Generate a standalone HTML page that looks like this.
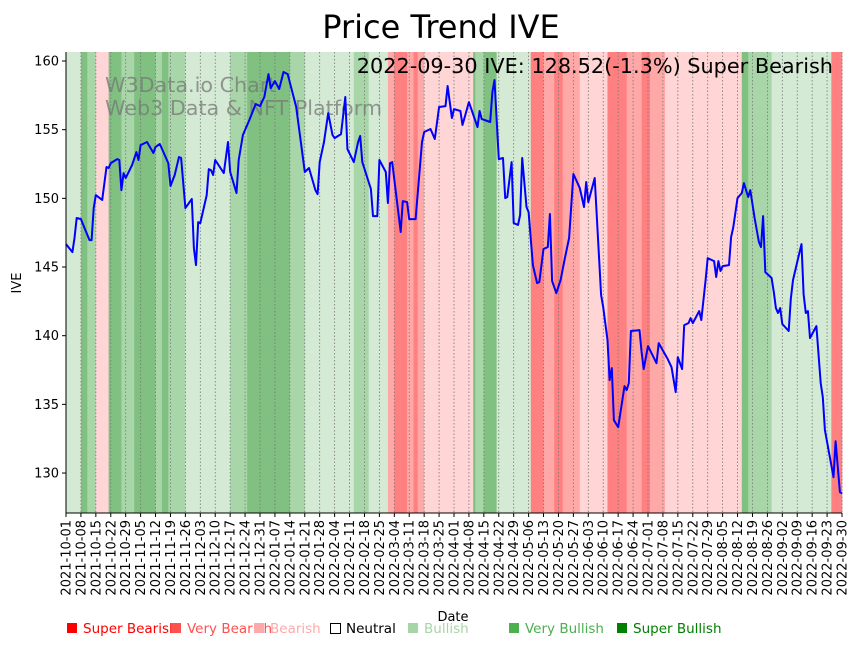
<!DOCTYPE html>
<html><head><meta charset="utf-8">
<style>
body{margin:0;background:#fff;font-family:"Liberation Sans","DejaVu Sans",sans-serif;}
svg text{font-family:"DejaVu Sans","Liberation Sans",sans-serif;}
</style></head>
<body>
<svg id="chart" width="857" height="646" viewBox="0 0 857 646" xmlns="http://www.w3.org/2000/svg">
<text x="441" y="38" font-size="32" text-anchor="middle">Price Trend IVE</text>
<g id="bands"></g>
<g id="grid"></g>
<text x="105" y="92" font-size="20.7" fill="#777" fill-opacity="0.75">W3Data.io Chart</text>
<text x="105" y="115" font-size="20.7" fill="#777" fill-opacity="0.75">Web3 Data &amp; NFT Platform</text>
<path id="line" fill="none" stroke="#0000ff" stroke-width="2" stroke-linejoin="round"></path>
<text x="833" y="73" font-size="20.8" text-anchor="end">2022-09-30 IVE: 128.52(-1.3%) Super Bearish</text>
<line x1="66" y1="52" x2="66" y2="513" stroke="#000" stroke-width="1"/>
<line x1="66" y1="513" x2="842" y2="513" stroke="#000" stroke-width="1"/>
<g id="yticks"></g>
<g id="xticks"></g>
<text x="0" y="0" font-size="13" text-anchor="middle" transform="translate(21,283) rotate(-90)">IVE</text>
<text x="453" y="621" font-size="13" text-anchor="middle">Date</text>
<g font-size="13.5">
<g><rect x="67" y="623" width="10" height="10" fill="#ff0000"/><text x="83" y="633" fill="#ff0000">Super Bearish</text></g>
<g><rect x="171" y="623" width="10" height="10" fill="#ff5050"/><text x="187" y="633" fill="#ff5050">Very Bearish</text></g>
<g><rect x="254" y="623" width="10" height="10" fill="#ffaaaa"/><text x="270" y="633" fill="#ffaaaa">Bearish</text></g>
<g><rect x="330.5" y="623.5" width="10" height="10" fill="none" stroke="#000"/><text x="346" y="633" fill="#000">Neutral</text></g>
<g><rect x="408" y="623" width="10" height="10" fill="#a8d5a8"/><text x="424" y="633" fill="#a8d5a8">Bullish</text></g>
<g><rect x="509" y="623" width="10" height="10" fill="#4caf50"/><text x="525" y="633" fill="#4caf50">Very Bullish</text></g>
<g><rect x="617" y="623" width="10" height="10" fill="#008000"/><text x="633" y="633" fill="#008000">Super Bullish</text></g>
</g>
</svg>
<script>
// days since 2021-10-01 and closing prices
const days = [0,3,4,5,7,11,12,13,14,17,19,20,21,24,25,26,27,28,31,33,34,35,38,41,42,44,48,49,51,53,54,56,59,60,61,62,63,66,67,68,69,70,74,76,77,80,81,83,86,89,91,93,95,96,98,100,102,104,108,112,114,117,118,119,121,123,125,126,129,131,132,135,137,138,139,143,144,146,147,150,151,152,153,157,158,160,161,164,167,168,171,173,175,178,179,181,182,185,186,189,193,194,195,199,200,201,203,205,206,207,209,210,212,213,214,216,217,219,221,222,224,226,227,228,230,232,234,236,238,241,243,244,245,248,251,252,254,255,256,257,259,262,263,264,265,269,270,271,273,277,278,282,284,286,287,289,290,292,293,294,297,298,300,301,304,305,306,307,308,311,312,313,315,317,318,320,321,323,325,326,327,328,331,332,333,334,335,336,339,340,341,343,345,346,347,348,349,352,354,355,356,360,361,363,364];
const prices = [146.67,146.09,147.11,148.57,148.49,146.96,146.96,149.29,150.24,149.88,152.28,152.21,152.57,152.86,152.79,150.6,151.84,151.48,152.43,153.37,152.79,153.88,154.1,153.3,153.74,153.96,152.57,150.9,151.7,153.01,152.94,149.29,149.95,146.38,145.14,148.27,148.2,150.24,152.13,152.06,151.7,152.79,151.84,154.1,151.92,150.39,152.79,154.61,155.7,156.87,156.72,157.38,159.05,158.03,158.54,157.96,159.2,159.05,156.65,151.92,152.21,150.6,150.31,152.64,154.1,156.21,154.61,154.39,154.68,157.38,153.59,152.64,154.1,154.54,152.64,150.68,148.71,148.71,152.79,151.92,149.66,152.57,152.64,147.55,149.8,149.73,148.49,148.49,154.1,154.83,155.05,154.32,156.65,156.72,158.18,155.85,156.5,156.36,155.34,157.01,155.19,156.36,155.78,155.56,157.74,158.62,152.86,152.94,150.02,150.1,152.64,148.2,148.06,148.78,152.94,149.37,149.0,145.14,143.83,143.9,146.31,146.45,148.86,143.98,143.1,144.05,145.65,147.11,151.77,150.75,149.37,151.19,149.73,151.48,142.96,142.08,139.68,136.77,137.64,133.85,133.34,136.33,136.04,136.55,140.34,140.41,138.81,137.57,139.24,138.0,139.46,138.37,137.71,135.89,138.44,137.57,140.77,140.92,141.28,140.92,141.79,141.14,144.05,145.65,145.43,144.27,145.43,144.71,145.07,145.14,147.18,147.91,150.02,150.39,151.11,150.1,150.6,148.57,146.82,146.45,148.71,144.63,144.2,143.18,142.01,141.65,142.01,140.85,140.34,142.67,144.05,145.36,146.67,143.03,141.65,141.79,139.83,140.7,136.55,135.53,133.13,129.7,132.32,128.61,128.52];
// sentiment bands: start day, end day, level (-3 super bearish .. 3 super bullish)
const bandStart = [0,7,10,14,20,26,32,42,45,48,56,77,85,105,112,135,142,151,154,160,163,165,168,191,192,196,202,218,224,229,233,241,254,263,270,274,281,317,320,331,359];
const bandEnd   = [7,10,14,20,26,32,42,45,48,56,77,85,105,112,135,142,151,154,160,163,165,168,191,192,196,202,218,224,229,233,241,254,263,270,274,281,317,320,331,359,364];
const bandLevel = [1,3,2,-1,3,2,3,2,3,2,1,2,3,2,1,2,1,-2,-3,-2,-3,-2,-1,3,2,3,1,-3,-2,-3,-2,-1,-3,-2,-3,-2,-1,3,2,1,-3];
const yTicks = [130,135,140,145,150,155,160];
const startDate = "2021-10-01";
const tickStepDays = 7, totalDays = 364;

const X0=66,X1=842,Y0=513,Y1=52;
const yTop=160.656, yBot=127.09;
const xs = d => X0 + d*(X1-X0)/totalDays;
const ys = v => Y1 + (yTop - v)*(Y0-Y1)/(yTop-yBot);
const NS="http://www.w3.org/2000/svg";
const levelColor = {"-3":"#ff8080","-2":"#ffa8a8","-1":"#ffd5d5","1":"#d4ead4","2":"#a8d6a9","3":"#80c080"};

const bandsG=document.getElementById('bands');
for(let i=0;i<bandStart.length;i++){
  const r=document.createElementNS(NS,'rect');
  
  
  r.setAttribute('x',xs(bandStart[i]));
  r.setAttribute('width',xs(bandEnd[i])-xs(bandStart[i])+0.3);
  r.setAttribute('y',Y1);r.setAttribute('height',Y0-Y1);
  r.setAttribute('fill',levelColor[bandLevel[i]]);
  bandsG.appendChild(r);
}
const gridG=document.getElementById('grid'), xtG=document.getElementById('xticks');
const sd=new Date(startDate+"T00:00:00Z");
for(let d=0; d<=totalDays; d+=tickStepDays){
  const x=xs(d);
  const l=document.createElementNS(NS,'line');
  
  
  l.setAttribute('x1',x);l.setAttribute('x2',x);l.setAttribute('y1',Y1);l.setAttribute('y2',Y0);
  l.setAttribute('stroke','#777');l.setAttribute('stroke-width','0.8');l.setAttribute('stroke-dasharray','1.5,2');
  gridG.appendChild(l);
  const t=document.createElementNS(NS,'line');
  
  
  t.setAttribute('x1',x);t.setAttribute('x2',x);t.setAttribute('y1',Y0);t.setAttribute('y2',Y0+4);t.setAttribute('stroke','#000');
  xtG.appendChild(t);
  const dt=new Date(sd.getTime()+d*86400000);
  const lab=dt.toISOString().slice(0,10);
  const tx=document.createElementNS(NS,'text');
  
  
  tx.setAttribute('font-size','13');tx.setAttribute('text-anchor','end');
  tx.setAttribute('transform',`translate(${x+4.5},${Y0+7}) rotate(-90)`);
  tx.textContent=lab;
  xtG.appendChild(tx);
}
const ytG=document.getElementById('yticks');
yTicks.forEach(v=>{
  const y=ys(v);
  const t=document.createElementNS(NS,'line');
  
  
  t.setAttribute('x1',X0-4);t.setAttribute('x2',X0);t.setAttribute('y1',y);t.setAttribute('y2',y);t.setAttribute('stroke','#000');
  ytG.appendChild(t);
  const tx=document.createElementNS(NS,'text');
  
  
  tx.setAttribute('font-size','13');tx.setAttribute('text-anchor','end');
  tx.setAttribute('x',X0-7);tx.setAttribute('y',y+4.5);
  tx.textContent=v;
  ytG.appendChild(tx);
});
let p='';
for(let i=0;i<days.length;i++){p+=(i?'L':'M')+xs(days[i]).toFixed(1)+','+ys(prices[i]).toFixed(1);}
document.getElementById('line').setAttribute('d',p);
</script>
</body></html>
